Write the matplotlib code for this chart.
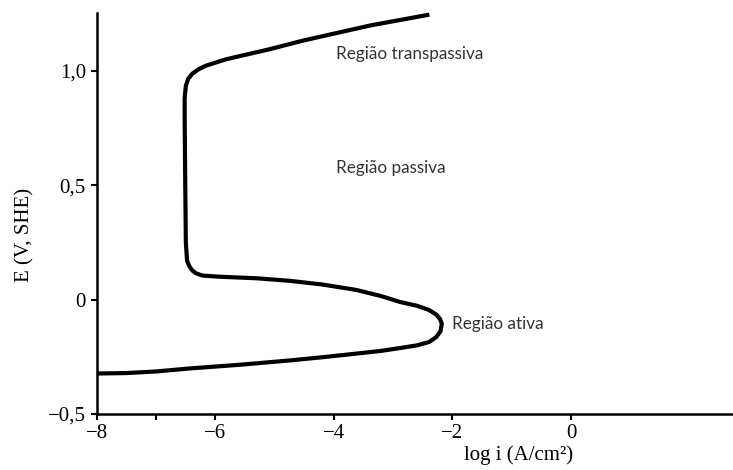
import matplotlib
matplotlib.use("Agg")
import matplotlib.pyplot as plt

# Polarization curve (log i in A/cm^2, E in V SHE)
log_i = [-8.0, -7.5, -7.0, -6.44, -5.6, -4.75, -4.2, -3.62, -3.2, -2.89, -2.6, -2.39,
         -2.27, -2.20, -2.18, -2.21, -2.27, -2.40, -2.6, -2.89, -3.2, -3.62, -4.2,
         -4.75, -5.3, -5.94, -6.22, -6.33, -6.39, -6.44, -6.48, -6.50, -6.51, -6.52,
         -6.52, -6.50, -6.46, -6.39, -6.28, -6.16, -5.82, -5.1, -4.53, -3.40, -2.39]
E = [-0.323, -0.321, -0.314, -0.301, -0.285, -0.266, -0.252, -0.236, -0.224, -0.212, -0.200, -0.185,
     -0.163, -0.137, -0.105, -0.085, -0.066, -0.045, -0.027, -0.010, 0.015, 0.042, 0.066,
     0.082, 0.093, 0.100, 0.105, 0.115, 0.127, 0.145, 0.170, 0.25, 0.5, 0.8,
     0.88, 0.934, 0.965, 0.987, 1.007, 1.022, 1.050, 1.093, 1.131, 1.197, 1.245]

x_ticks = [-8, -6, -4, -2, 0]
x_ticklabels = ["\u22128", "\u22126", "\u22124", "\u22122", "0"]
y_ticks = [-0.5, 0.0, 0.5, 1.0]
y_ticklabels = ["\u22120,5", "0", "0,5", "1,0"]

region_labels = ["Região transpassiva", "Região passiva", "Região ativa"]
region_x = [-3.96, -3.96, -2.015]
region_y = [1.074, 0.576, -0.105]

fig = plt.figure(figsize=(7.33, 4.70), dpi=100)
ax = fig.add_axes([0.1323, 0.1191, 0.8677, 0.8532])

ax.plot(log_i, E, color="black", lw=3, solid_capstyle="butt", solid_joinstyle="round", clip_on=False)

ax.set_xlim(-8, 2.735)
ax.set_ylim(-0.5, 1.252)

for s in ["top", "right"]:
    ax.spines[s].set_visible(False)
for s in ["left", "bottom"]:
    ax.spines[s].set_linewidth(1.8)
    ax.spines[s].set_color("black")

ax.set_xticks(x_ticks)
ax.set_xticklabels(x_ticklabels)
ax.set_xticks([-7], minor=True)
ax.set_yticks(y_ticks)
ax.set_yticklabels(y_ticklabels)
ax.tick_params(axis="both", which="both", direction="out", length=4, width=1.5)
ax.tick_params(axis="x", pad=3)
ax.tick_params(axis="y", pad=4)
for lab in ax.get_xticklabels() + ax.get_yticklabels():
    lab.set_fontfamily("Liberation Serif")
    lab.set_fontsize(15)

ax.set_xlabel("log i (A/cm\u00b2)", fontfamily="Liberation Serif", fontsize=15)
ax.xaxis.label.set_va("center")
ax.xaxis.set_label_coords(0.6635, -0.103)
ax.set_ylabel("E (V, SHE)", fontfamily="Liberation Serif", fontsize=15)
ax.yaxis.label.set_va("center")
ax.yaxis.set_label_coords(-0.113, 0.446)

for t, x, y in zip(region_labels, region_x, region_y):
    ax.text(x, y, t, fontfamily="Lato", fontsize=12.3, color="#333333", ha="left", va="center")

fig.savefig("out.png", dpi=100)
